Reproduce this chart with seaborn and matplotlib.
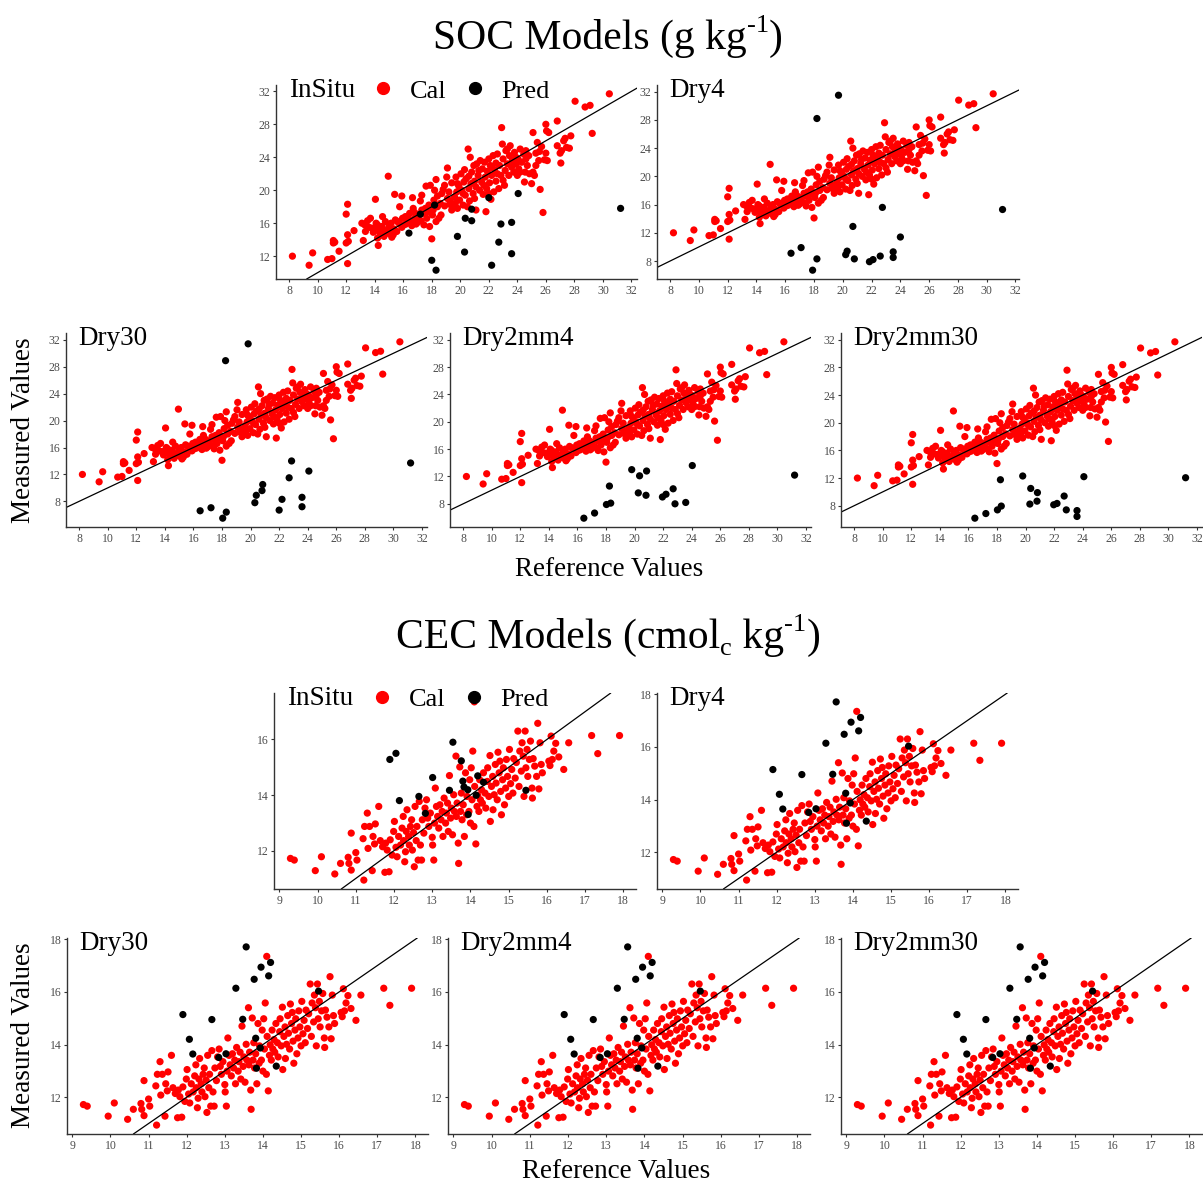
import numpy as np
import pandas as pd
import matplotlib
matplotlib.use("Agg")
import matplotlib.pyplot as plt
from matplotlib.lines import Line2D
from matplotlib.ticker import MultipleLocator
import seaborn as sns

sns.set_theme(style="ticks")
plt.rcParams['font.family'] = ['Liberation Serif', 'DejaVu Serif']
plt.rcParams['text.color'] = 'black'

# ---------------- SOC data ----------------
soc_cal_x = [8.23, 9.4, 9.65, 10.7, 11.0, 11.1, 11.1, 11.2, 11.5, 12.0, 12.1, 12.1, 12.0, 12.1, 12.15, 12.55,
             13.1, 13.2, 13.35, 13.5, 13.7, 13.8, 14.05, 14.1, 14.2, 14.25, 14.3, 14.4, 14.5, 14.55, 14.65, 14.75,
             14.9, 14.95, 15.05, 15.15, 15.2, 15.35, 15.4, 15.45, 15.55, 15.7, 15.75, 15.9, 15.95, 16.05, 16.15,
             16.3, 16.45, 16.55, 16.65, 16.7, 16.8, 16.9, 17.0, 17.1, 17.2, 17.25, 17.3, 17.4, 17.45, 17.55, 17.6,
             17.65, 17.8, 17.85, 17.9, 18.0, 18.05, 18.15, 18.2, 18.3, 18.3, 18.4, 18.5, 18.6, 18.65, 18.7, 18.8,
             18.9, 19.05, 19.1, 19.2, 19.25, 19.3, 19.4, 19.5, 19.6, 19.65, 19.7, 19.75, 19.8, 19.9, 19.95, 20.05,
             20.1, 20.2, 20.25, 20.3, 20.35, 20.4, 20.5, 20.55, 20.6, 20.65, 20.7, 20.75, 20.8, 20.9, 20.95, 21.0,
             21.1, 21.1, 21.15, 21.25, 21.35, 21.4, 21.5, 21.55, 21.65, 21.7, 21.75, 21.8, 21.85, 21.9, 22.0, 22.05,
             22.1, 22.15, 22.2, 22.3, 22.35, 22.4, 22.5, 22.5, 22.6, 22.7, 22.75, 22.85, 22.9, 22.95, 23.0, 23.1,
             23.15, 23.2, 23.3, 23.4, 23.45, 23.5, 23.6, 23.65, 23.75, 23.8, 23.9, 24.0, 24.05, 24.1, 24.2, 24.3,
             24.45, 24.5, 24.55, 24.6, 24.7, 24.8, 24.85, 25.0, 25.1, 25.1, 25.2, 25.3, 25.4, 25.5, 25.55, 25.6,
             25.7, 25.8, 25.9, 26.0, 26.0, 26.05, 26.2, 26.8, 26.8, 27.0, 27.05, 27.25, 27.35, 27.45, 27.65, 27.75,
             28.05, 28.75, 29.1, 29.25, 30.45,
             13.3, 13.6, 13.9, 14.0, 14.2, 14.6, 14.8, 15.0, 15.3, 15.6, 15.9, 16.2, 16.4, 16.6, 16.8, 17.0, 17.3,
             17.7, 18.1, 18.4, 18.9, 19.1, 19.4, 19.8, 20.2, 20.6, 21.0, 21.3, 21.6, 22.0, 22.2, 22.6, 23.0, 23.3,
             23.9, 24.2, 24.6, 25.3, 26.1, 27.1]
soc_cal_y = [12.0, 10.9, 12.4, 11.6, 11.7, 13.9, 13.6, 13.7, 12.6, 17.1, 18.3, 11.1, 13.6, 14.6, 13.8, 15.1,
             16.0, 13.9, 15.0, 16.3, 16.6, 15.4, 18.9, 16.0, 14.2, 13.3, 15.0, 14.6, 15.6, 16.8, 14.4, 16.2,
             15.2, 21.7, 14.7, 16.0, 14.3, 15.3, 19.5, 16.4, 15.0, 16.0, 18.0, 19.3, 16.6, 15.8, 16.8,
             16.2, 17.2, 16.2, 19.1, 17.8, 16.6, 15.9, 17.0, 16.4, 18.7, 16.3, 19.4, 17.2, 15.8, 17.8, 20.5,
             16.6, 18.2, 15.6, 20.6, 14.1, 17.0, 18.8, 20.0, 16.2, 21.3, 18.0, 16.6, 18.4, 17.0, 19.6, 20.1,
             20.6, 21.6, 22.7, 19.8, 18.3, 18.7, 20.9, 18.0, 19.2, 18.4, 21.6, 19.8, 17.8, 20.5, 18.8, 22.0,
             20.0, 18.2, 21.0, 22.5, 19.4, 21.4, 18.0, 25.0, 20.2, 18.7, 24.0, 20.8, 22.2, 19.6, 23.0, 21.1,
             17.6, 20.4, 23.2, 21.8, 20.0, 23.6, 21.0, 22.6, 20.6, 23.4, 21.6, 17.4, 20.2, 22.3, 23.8, 20.9,
             23.0, 18.9, 21.8, 24.2, 19.8, 22.5, 23.3, 21.1, 24.4, 20.2, 23.0, 21.8, 27.6, 25.6, 23.8, 20.6,
             22.4, 24.8, 23.2, 21.8, 24.2, 25.4, 22.8, 23.6, 22.2, 24.6, 23.2, 21.8, 23.8, 22.6, 25.0, 23.4,
             24.4, 21.0, 22.2, 23.8, 23.0, 24.2, 22.0, 20.8, 27.0, 22.2, 21.8, 24.5, 25.8, 23.6, 24.7, 20.1,
             25.3, 17.3, 23.7, 24.5, 28.0, 27.2, 27.0, 28.4, 25.4, 24.5, 23.3, 26.0, 26.3, 25.2, 25.1, 26.6,
             30.8, 30.1, 30.3, 26.9, 31.7,
             15.8, 15.5, 14.9, 15.3, 15.8, 15.1, 14.8, 15.6, 14.6, 16.2, 15.5, 15.9, 16.5, 15.7, 17.3, 16.1, 17.6,
             17.4, 17.6, 19.3, 18.1, 19.0, 17.6, 20.8, 19.6, 21.7, 19.0, 22.4, 19.5, 19.6, 22.8, 22.0, 21.2, 25.0,
             24.0, 22.2, 24.8, 23.0, 23.6, 24.8]

soc_insitu_pred_x = [16.4, 17.2, 18.2, 18.0, 18.3, 19.8, 20.3, 20.35, 20.8, 20.8, 22.0, 22.2, 22.7, 22.85, 23.6, 23.6, 24.06, 31.24]
soc_insitu_pred_y = [14.8, 17.1, 18.2, 11.5, 10.3, 14.4, 12.5, 16.6, 16.3, 17.7, 19.1, 10.9, 13.7, 15.9, 16.1, 12.3, 19.6, 17.8]
soc_dry4_pred_x = [16.4, 17.1, 18.2, 17.9, 18.2, 19.7, 20.2, 20.3, 20.8, 20.7, 21.85, 22.1, 22.6, 22.75, 23.5, 23.5, 24.0, 31.1]
soc_dry4_pred_y = [9.1, 9.9, 28.2, 6.7, 8.3, 31.5, 8.9, 9.4, 8.3, 12.9, 7.9, 8.2, 8.7, 15.6, 8.5, 9.3, 11.4, 15.3]
soc_dry30_pred_x = [16.47, 17.23, 18.05, 18.3, 18.25, 19.83, 20.3, 20.4, 20.8, 20.85, 22.0, 22.2, 22.7, 22.87, 23.6, 23.6, 24.08, 31.2]
soc_dry30_pred_y = [6.6, 7.05, 5.5, 6.4, 28.9, 31.4, 7.8, 8.9, 9.6, 10.5, 6.7, 8.3, 11.5, 14.0, 8.6, 7.2, 12.5, 13.7]
soc_dry2mm4_pred_x = [16.45, 17.2, 18.03, 18.33, 18.24, 19.8, 20.26, 20.35, 20.8, 20.84, 21.95, 22.2, 22.7, 22.83, 23.58, 24.04, 31.2]
soc_dry2mm4_pred_y = [5.9, 6.65, 7.9, 8.1, 10.6, 13.0, 9.6, 12.1, 9.25, 12.8, 9.0, 9.4, 10.2, 8.0, 8.2, 13.6, 12.2]
soc_dry2mm30_pred_x = [16.45, 17.22, 18.03, 18.3, 18.24, 19.8, 20.3, 20.36, 20.8, 20.83, 21.97, 22.2, 22.7, 22.85, 23.6, 23.6, 24.08, 31.2]
soc_dry2mm30_pred_y = [6.2, 6.87, 7.4, 7.95, 11.76, 12.3, 8.24, 10.5, 8.66, 9.9, 8.14, 8.33, 9.4, 7.4, 7.3, 6.45, 12.2, 12.05]

# ---------------- CEC data ----------------
cec_cal_x = [9.29, 9.39, 9.94, 10.1, 10.45, 10.6, 10.8, 10.82, 10.88, 10.88, 11.0, 11.03, 11.19, 11.21, 11.23, 11.3,
             11.32, 11.36, 11.43, 11.45, 11.49, 11.51, 11.6, 11.64, 11.7, 11.76, 11.78, 11.82, 11.87, 11.9, 11.95,
             11.99, 12.01, 12.05, 12.08, 12.12, 12.17, 12.21, 12.24, 12.25, 12.28, 12.3, 12.32, 12.34, 12.38, 12.4,
             12.43, 12.46, 12.48, 12.51, 12.53, 12.55, 12.58, 12.6, 12.63, 12.66, 12.69, 12.72, 12.74, 12.78, 12.81,
             12.85, 12.88, 12.91, 12.95, 13.0, 13.01, 13.04, 13.06, 13.08, 13.11, 13.14, 13.17, 13.2, 13.23, 13.26,
             13.28, 13.31, 13.35, 13.37, 13.4, 13.42, 13.45, 13.48, 13.5, 13.53, 13.56, 13.58, 13.62, 13.63, 13.65,
             13.68, 13.69, 13.72, 13.74, 13.76, 13.78, 13.81, 13.84, 13.87, 13.9, 13.91, 13.96, 13.98, 14.0, 14.02,
             14.04, 14.06, 14.09, 14.11, 14.14, 14.17, 14.19, 14.22, 14.24, 14.26, 14.29, 14.31, 14.34, 14.38, 14.4,
             14.44, 14.45, 14.48, 14.51, 14.52, 14.55, 14.58, 14.59, 14.62, 14.65, 14.67, 14.7, 14.72, 14.75, 14.77,
             14.79, 14.81, 14.84, 14.86, 14.89, 14.92, 14.94, 14.97, 15.0, 15.02, 15.05, 15.08, 15.11, 15.13, 15.17,
             15.2, 15.24, 15.27, 15.29, 15.33, 15.35, 15.38, 15.4, 15.43, 15.45, 15.48, 15.5, 15.54, 15.57, 15.61,
             15.62, 15.64, 15.68, 15.73, 15.76, 15.79, 15.82, 15.85, 15.88, 16.05, 16.08, 16.11, 16.14, 16.18, 16.23,
             16.31, 16.44, 16.57, 17.17, 17.33, 17.9, 14.1]
cec_cal_y = [11.72, 11.66, 11.28, 11.78, 11.16, 11.54, 11.76, 11.54, 12.63, 11.3, 11.93, 11.66, 12.43, 10.94, 12.87, 13.35,
             12.08, 12.87, 11.28, 12.51, 12.24, 12.96, 13.59, 12.36, 12.14, 11.22, 12.27, 12.02, 11.24, 12.39, 11.84,
             12.69, 13.05, 12.12, 11.78, 12.51, 12.2, 12.81, 13.23, 12.36, 11.6, 11.96, 12.69, 13.47, 12.51, 12.2,
             12.87, 13.11, 12.02, 12.65, 11.42, 13.59, 12.36, 12.87, 11.66, 13.77, 12.2, 11.66, 13.11, 12.63, 13.53,
             13.83, 13.17, 12.87, 13.35, 12.48, 12.2, 11.66, 12.99, 14.25, 13.59, 13.23, 12.81, 13.65, 13.11, 13.41,
             12.51, 13.89, 12.99, 13.35, 13.71, 12.69, 14.7, 13.17, 13.53, 12.57, 14.01, 13.41, 15.4, 13.23, 13.71,
             12.27, 11.54, 15.01, 13.41, 14.07, 13.11, 13.65, 12.51, 14.8, 13.29, 13.95, 13.41, 14.55, 12.99, 14.98,
             13.83, 15.58, 12.87, 14.31, 12.24, 13.59, 13.99, 13.41, 14.55, 13.83, 14.19, 13.71, 14.8, 14.07, 13.53,
             14.49, 14.98, 13.95, 15.42, 13.05, 14.31, 14.67, 13.47, 14.01, 15.1, 14.43, 13.83, 15.54, 14.8, 15.22,
             14.13, 13.29, 14.55, 14.98, 13.65, 14.25, 15.28, 14.67, 13.95, 15.64, 14.41, 14.92, 14.07, 15.31, 14.61,
             15.17, 16.3, 14.31, 15.58, 14.86, 15.88, 15.4, 13.95, 16.3, 14.98, 15.64, 14.67, 15.28, 15.94, 14.25,
             13.89, 15.31, 15.04, 14.67, 16.58, 14.22, 15.88, 15.1, 14.8, 15.22, 15.06, 16.12, 15.28, 15.58, 15.86,
             15.37, 14.92, 15.88, 16.14, 15.49, 16.14, 17.35]

cec_insitu_pred_x = [11.89, 12.05, 12.14, 12.65, 12.82, 13.01, 13.45, 13.54, 13.76, 13.8, 13.83, 13.93, 13.94, 14.15, 14.19, 14.34, 15.45]
cec_insitu_pred_y = [15.28, 15.5, 13.8, 13.95, 13.34, 14.63, 14.17, 15.9, 15.23, 14.5, 14.29, 14.19, 13.3, 13.99, 14.69, 14.46, 14.17]
cec_dry_pred_x = [11.9, 12.07, 12.16, 12.66, 12.84, 13.03, 13.29, 13.47, 13.56, 13.77, 13.81, 13.83, 13.95, 13.93, 14.15, 14.2, 14.35, 15.46]
cec_dry_pred_y = [15.14, 14.2, 13.64, 14.95, 13.51, 13.65, 16.14, 14.96, 17.71, 16.48, 14.24, 13.1, 16.94, 13.87, 16.61, 17.12, 13.18, 16.03]

W, H = 1203, 1187
fig = plt.figure(figsize=(W / 100, H / 100), dpi=100)


def rect(px, py, pw, ph):
    return [px / W, 1 - (py + ph) / H, pw / W, ph / H]


def expanded(vals, frac=0.05):
    lo, hi = min(vals), max(vals)
    d = (hi - lo) * frac
    return lo - d, hi + d


def panel(r, cx, cy, px, py, label, xstep, ystep):
    ax = fig.add_axes(rect(*r))
    df_c = pd.DataFrame({'x': cx, 'y': cy})
    df_p = pd.DataFrame({'x': px, 'y': py})
    sns.scatterplot(data=df_c, x='x', y='y', color='#FF0000', s=27, edgecolor='none', ax=ax, legend=False)
    sns.scatterplot(data=df_p, x='x', y='y', color='black', s=27, edgecolor='none', ax=ax, legend=False)
    ax.axline((0, 0), slope=1, color='black', lw=0.9)
    ax.set_xlim(*expanded(list(cx) + list(px)))
    ax.set_ylim(*expanded(list(cy) + list(py)))
    ax.xaxis.set_major_locator(MultipleLocator(xstep))
    ax.yaxis.set_major_locator(MultipleLocator(ystep))
    ax.set_xlabel('')
    ax.set_ylabel('')
    sns.despine(ax=ax)
    for s in ['left', 'bottom']:
        ax.spines[s].set_linewidth(1.0)
        ax.spines[s].set_color('#333333')
    ax.tick_params(labelsize=8.5, length=2.5, width=0.8, color='#333333', labelcolor='#4D4D4D', pad=1.5)
    ax.text(0.035, 0.97, label, transform=ax.transAxes, fontsize=19.5, va='center', ha='left', color='black')
    return ax


def add_legend(ax, xpx, ypx):
    handles = [Line2D([], [], marker='o', ls='', color='#FF0000', markersize=8.5, label='Cal'),
               Line2D([], [], marker='o', ls='', color='black', markersize=8.5, label='Pred')]
    leg = ax.legend(handles=handles, ncol=2, frameon=False, fontsize=19, loc='center left',
                    bbox_to_anchor=(xpx / W, 1 - ypx / H), bbox_transform=fig.transFigure,
                    borderpad=0, borderaxespad=0, handletextpad=0.5, columnspacing=0.6, handlelength=1.0)
    leg.set_zorder(10)


def rich_title(segments, cx_px, cy_px):
    # segments: (text, fontsize, vertical offset in px)
    renderer = fig.canvas.get_renderer()
    texts, widths = [], []
    for txt, fs, dy in segments:
        t = fig.text(0, 0, txt, fontsize=fs, ha='left', va='baseline', color='black')
        widths.append(t.get_window_extent(renderer).width)
        texts.append((t, dy))
    total = sum(widths)
    x = cx_px - total / 2
    for (t, dy), w in zip(texts, widths):
        t.set_position((x / W, 1 - (cy_px - dy) / H))
        x += w


# SOC
ax = panel((276, 85, 361, 194), soc_cal_x, soc_cal_y, soc_insitu_pred_x, soc_insitu_pred_y, 'InSitu', 2, 4)
add_legend(ax, 370, 91)
panel((657, 85, 362, 194), soc_cal_x, soc_cal_y, soc_dry4_pred_x, soc_dry4_pred_y, 'Dry4', 2, 4)
panel((66, 333, 361, 194), soc_cal_x, soc_cal_y, soc_dry30_pred_x, soc_dry30_pred_y, 'Dry30', 2, 4)
panel((450, 333, 361, 194), soc_cal_x, soc_cal_y, soc_dry2mm4_pred_x, soc_dry2mm4_pred_y, 'Dry2mm4', 2, 4)
panel((841, 333, 361, 194), soc_cal_x, soc_cal_y, soc_dry2mm30_pred_x, soc_dry2mm30_pred_y, 'Dry2mm30', 2, 4)

# CEC
ax = panel((274, 693, 362, 196), cec_cal_x, cec_cal_y, cec_insitu_pred_x, cec_insitu_pred_y, 'InSitu', 1, 2)
add_legend(ax, 369, 699)
panel((657, 693, 361, 196), cec_cal_x, cec_cal_y, cec_dry_pred_x, cec_dry_pred_y, 'Dry4', 1, 2)
panel((67, 938, 361, 196), cec_cal_x, cec_cal_y, cec_dry_pred_x, cec_dry_pred_y, 'Dry30', 1, 2)
panel((448, 938, 362, 196), cec_cal_x, cec_cal_y, cec_dry_pred_x, cec_dry_pred_y, 'Dry2mm4', 1, 2)
panel((841, 938, 361, 196), cec_cal_x, cec_cal_y, cec_dry_pred_x, cec_dry_pred_y, 'Dry2mm30', 1, 2)

# Titles and labels (baseline positions in px)
rich_title([('SOC Models (g kg', 30, 0), ('-1', 19, 17), (')', 30, 0)], 608, 49)
rich_title([('CEC Models (cmol', 30, 0), ('c', 19, -7), (' kg', 30, 0), ('-1', 19, 17), (')', 30, 0)], 608, 648)
fig.text(609 / W, 1 - 570 / H, 'Reference Values', fontsize=19.5, ha='center', va='center', color='black')
fig.text(616 / W, 1 - 1172 / H, 'Reference Values', fontsize=19.5, ha='center', va='center', color='black')
fig.text(23 / W, 1 - 430 / H, 'Measured Values', fontsize=19.5, ha='center', va='center', rotation=90, color='black')
fig.text(23 / W, 1 - 1035 / H, 'Measured Values', fontsize=19.5, ha='center', va='center', rotation=90, color='black')

fig.savefig('out.png', dpi=100, facecolor='white')
